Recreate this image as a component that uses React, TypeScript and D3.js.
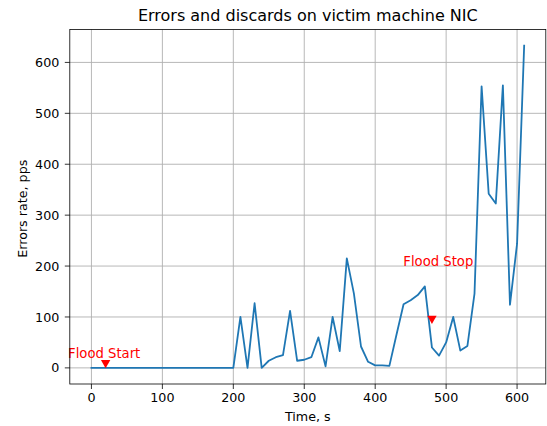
import React from "react";
import * as d3 from "d3";

const times = [0, 10, 20, 30, 40, 50, 60, 70, 80, 90, 100, 110, 120, 130, 140, 150, 160, 170, 180, 190, 200,
  210, 220, 230, 240, 250, 260, 270, 280, 290, 300, 310, 320, 330, 340, 350, 360, 370, 380, 390, 400,
  410, 420, 430, 440, 450, 460, 470, 480, 490, 500, 510, 520, 530, 540, 550, 560, 570, 580, 590, 600, 610];
const errors = [0, 0, 0, 0, 0, 0, 0, 0, 0, 0, 0, 0, 0, 0, 0, 0, 0, 0, 0, 0, 0,
  100, 0, 127, 0, 14, 21, 25, 112, 14, 16, 21, 60, 3, 100, 33, 215, 146, 42, 12, 5,
  5, 4, 65, 125, 133, 143, 160, 40, 24, 50, 100, 34, 43, 146, 553, 342, 323, 555, 124, 244, 633];

const xTicks = [0, 100, 200, 300, 400, 500, 600];
const yTicks = [0, 100, 200, 300, 400, 500, 600];

const eventLabels = ["Flood Start", "Flood Stop"];
const eventX = [20, 480];
const eventY = [10, 97];
const labelX = [18, 489];
const labelY = [19, 200];

const W = 547, H = 426;
const left = 69.8, right = 545.8, top = 29.5, bottom = 384;
const FONT = "'DejaVu Sans', sans-serif";

export default function App() {
  const xExt = d3.extent(times) as [number, number];
  const yExt = d3.extent(errors) as [number, number];
  const xPad = (xExt[1] - xExt[0]) * 0.05;
  const yPad = (yExt[1] - yExt[0]) * 0.05;
  const x = d3.scaleLinear().domain([xExt[0] - xPad, xExt[1] + xPad]).range([left, right]);
  const y = d3.scaleLinear().domain([yExt[0] - yPad, yExt[1] + yPad]).range([bottom, top]);
  const line = d3.line<number>().x((_, i) => x(times[i])).y((d) => y(d));
  const tri = d3.symbol().type(d3.symbolTriangle).size(38)();

  return (
    <svg width={W} height={H} style={{ position: "absolute", left: 0, top: 0, background: "#fff" }} fontFamily={FONT}>
      <rect x={0} y={0} width={W} height={H} fill="#fff" />
      <text x={(left + right) / 2} y={20.7} textAnchor="middle" fontSize={16} fill="#000">
        Errors and discards on victim machine NIC
      </text>
      {/* grid */}
      {xTicks.map((t) => (
        <line key={"gx" + t} x1={x(t)} x2={x(t)} y1={top} y2={bottom} stroke="#b0b0b0" strokeWidth={0.9} />
      ))}
      {yTicks.map((t) => (
        <line key={"gy" + t} x1={left} x2={right} y1={y(t)} y2={y(t)} stroke="#b0b0b0" strokeWidth={0.9} />
      ))}
      {/* data */}
      <path d={line(errors) || ""} fill="none" stroke="#1f77b4" strokeWidth={1.8} strokeLinejoin="round" strokeLinecap="square" />
      {eventLabels.map((lab, i) => (
        <g key={lab}>
          <path d={tri} transform={`translate(${x(eventX[i])},${y(eventY[i])}) rotate(180)`} fill="red" />
          <text x={x(labelX[i])} y={y(labelY[i])} textAnchor="middle" fontSize={13.2} fill="red">
            {lab}
          </text>
        </g>
      ))}
      {/* frame */}
      <rect x={left} y={top} width={right - left} height={bottom - top} fill="none" stroke="#000" strokeWidth={0.8} />
      {/* x ticks */}
      {xTicks.map((t) => (
        <g key={"xt" + t}>
          <line x1={x(t)} x2={x(t)} y1={bottom} y2={bottom + 5} stroke="#000" strokeWidth={0.8} />
          <text x={x(t)} y={402} textAnchor="middle" fontSize={12.7} fill="#000">{t}</text>
        </g>
      ))}
      {yTicks.map((t) => (
        <g key={"yt" + t}>
          <line x1={left - 5} x2={left} y1={y(t)} y2={y(t)} stroke="#000" strokeWidth={0.8} />
          <text x={59.3} y={y(t) + 4.6} textAnchor="end" fontSize={12.7} fill="#000">{t}</text>
        </g>
      ))}
      <text x={(left + right) / 2} y={420.5} textAnchor="middle" fontSize={12.7} fill="#000">Time, s</text>
      <text transform={`translate(26.5,${(top + bottom) / 2 + 2}) rotate(-90)`} textAnchor="middle" fontSize={12.7} fill="#000">
        Errors rate, pps
      </text>
    </svg>
  );
}
